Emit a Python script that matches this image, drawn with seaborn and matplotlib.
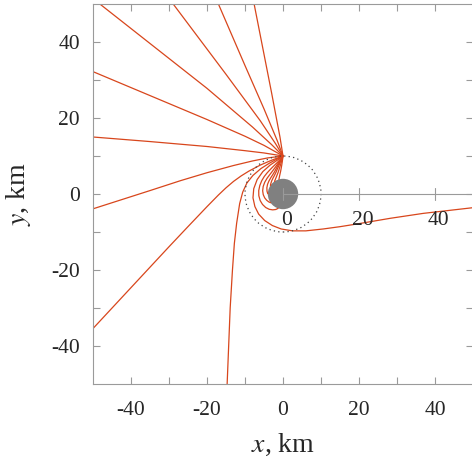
import numpy as np
import pandas as pd
import matplotlib
matplotlib.use("Agg")
import matplotlib.pyplot as plt
import seaborn as sns
from matplotlib.patches import Circle

# ---------------- data (km) ----------------
# escaping rays, cartesian points
r1_x = [0, -3, -8, -20, -48.2]
r1_y = [10, 13.0, 17.6, 27.8, 50]
r2_x = [0, -2, -6, -15, -28.9]
r2_y = [10, 13.3, 19.3, 31.5, 50]
r3_x = [0, -1.5, -5, -10, -17]
r3_y = [10, 14.0, 22.4, 33.8, 50]
r4_x = [0, -0.8, -3, -7.6]
r4_y = [10, 15.0, 26.6, 50]
r5_x = [0, -5, -10, -20, -35, -50]
r5_y = [10, 12.8, 15.2, 19.6, 25.9, 32.2]
r6_x = [0, -5, -10, -20, -35, -50]
r6_y = [10, 10.8, 11.4, 12.5, 13.8, 15.0]
r7_x = [0, -4, -8, -13, -20, -27, -35, -50]
r7_y = [10, 9.5, 8.7, 7.5, 5.6, 3.5, 0.9, -3.9]
r8_x = [0, -3, -6, -9, -11, -13, -15, -17, -20, -25, -30, -50]
r8_y = [10, 8.89, 7.6, 6.01, 4.77, 3.33, 1.63, -0.27, -3.33, -8.58, -13.88, -35.4]
r9_x = [0, -1.6, -3.6, -5.8, -7.9, -9.5, -10.6, -11.4, -12.2, -12.8, -13.3, -13.9, -14.3, -14.7]
r9_y = [10, 9.2, 8.1, 6.7, 4.9, 2.9, 0.5, -2.5, -7.7, -13, -20, -30, -40, -50]
r10_x = [0, -1.5, -3.4, -5.3, -6.8, -7.7, -7.9, -7.4, -6.4, -4.8, -2.8, -0.5, 2.5, 6, 10.6, 15, 19.4, 28.2, 36.9, 50]
r10_y = [10, 8.9, 7.6, 5.9, 3.8, 1.4, -1.0, -3.3, -5.3, -7.0, -8.3, -9.2, -9.7, -9.7, -9.2, -8.6, -7.9, -6.4, -5.1, -3.6]

# captured rays, read in polar form (angle in degrees, radius in km)
l1_phi = [90, 93, 96, 100, 105, 111, 118, 127, 137, 148, 160, 172, 184, 196, 207, 218, 228, 237, 245, 251]
l1_r = [10, 9.45, 8.95, 8.45, 8.0, 7.6, 7.25, 6.95, 6.75, 6.6, 6.5, 6.45, 6.38, 6.25, 6.05, 5.78, 5.42, 4.98, 4.5, 4.0]
l2_phi = [90, 92.5, 95, 98.5, 103, 109, 116, 125, 135, 147, 159, 171, 182, 192, 201, 209, 215]
l2_r = [10, 9.4, 8.85, 8.25, 7.65, 7.05, 6.55, 6.15, 5.9, 5.72, 5.58, 5.42, 5.2, 4.92, 4.6, 4.28, 4.0]
l3_phi = [90, 92, 94.5, 97.5, 101, 105.5, 111, 118, 127, 137, 148, 159, 170, 179]
l3_r = [10, 9.4, 8.8, 8.15, 7.5, 6.85, 6.25, 5.75, 5.35, 5.05, 4.8, 4.55, 4.27, 4.0]
l4_phi = [90, 91.6, 93.5, 96, 99, 103, 108, 114.5, 122, 131, 140, 146]
l4_r = [10, 9.4, 8.8, 8.1, 7.4, 6.7, 6.0, 5.4, 4.95, 4.55, 4.2, 4.0]
l5_phi = [90, 91.1, 92.5, 94.3, 96.5, 99.3, 103, 108, 114, 120, 124]
l5_r = [10, 9.3, 8.6, 7.9, 7.2, 6.5, 5.8, 5.15, 4.6, 4.2, 4.0]
l6_phi = [90, 90.6, 91.4, 92.5, 94, 96, 99, 102.5, 105.5]
l6_r = [10, 9.2, 8.4, 7.6, 6.8, 6.0, 5.2, 4.5, 4.0]

core_radius = 4.0      # grey disk
orbit_radius = 10.0    # dotted circle
mid_ticks = [0, 20, 40]
x_ticks = [-40, -20, 0, 20, 40]
y_ticks = [-40, -20, 0, 20, 40]
minor_ticks = [-30, -10, 10, 30]

# ---------------- build table ----------------
frames = []
cart = [(r1_x, r1_y), (r2_x, r2_y), (r3_x, r3_y), (r4_x, r4_y), (r5_x, r5_y),
        (r6_x, r6_y), (r7_x, r7_y), (r8_x, r8_y), (r9_x, r9_y), (r10_x, r10_y)]
for i, (xs, ys) in enumerate(cart):
    frames.append(pd.DataFrame({"x": xs, "y": ys, "ray": f"e{i}"}))
polar = [(l1_phi, l1_r), (l2_phi, l2_r), (l3_phi, l3_r), (l4_phi, l4_r), (l5_phi, l5_r), (l6_phi, l6_r)]
for i, (ph, rr) in enumerate(polar):
    ph = np.radians(ph)
    rr = np.asarray(rr)
    frames.append(pd.DataFrame({"x": rr * np.cos(ph), "y": rr * np.sin(ph), "ray": f"c{i}"}))
df = pd.concat(frames, ignore_index=True)

# ---------------- style ----------------
sns.set_theme(style="white")
plt.rcParams["font.family"] = ["Liberation Serif", "DejaVu Serif"]
plt.rcParams["mathtext.fontset"] = "stix"
plt.rcParams["axes.unicode_minus"] = False

grey = "#9a9a9a"
red = "#d8461c"

fig = plt.figure(figsize=(4.72, 4.59), dpi=100)
ax = fig.add_axes([93 / 472, 1 - 384 / 459, 380 / 472, 380 / 459])

ax.add_patch(Circle((0, 0), core_radius, facecolor="#808080", edgecolor="none", zorder=1))
sns.lineplot(data=df, x="x", y="y", units="ray", estimator=None, sort=False,
             color=red, linewidth=0.9, ax=ax, zorder=2, legend=False)
ax.add_patch(Circle((0, 0), orbit_radius, fill=False, edgecolor="#444444",
                    linestyle=(0, (1, 2.6)), linewidth=0.9, zorder=3))

# inner axis from the origin to the right
ax.plot([0, 50], [0, 0], color=grey, linewidth=0.8, zorder=4, clip_on=False)
for t in mid_ticks:
    ax.plot([t, t], [-1.6, 1.6], color=grey, linewidth=0.8, zorder=4)
    ax.text(t + 1, -8.15, str(t), ha="center", va="baseline", fontsize=15.5, zorder=5)

ax.set_xlim(-50, 50)
ax.set_ylim(-50, 50)
ax.set_aspect("auto")
ax.set_xticks(x_ticks)
ax.set_yticks(y_ticks)
ax.set_xticks(minor_ticks, minor=True)
ax.set_yticks(minor_ticks, minor=True)
ax.set_xticklabels([str(v) for v in x_ticks])
ax.set_yticklabels([str(v) for v in y_ticks])
ax.tick_params(which="both", direction="in", length=5, width=0.8, color=grey,
               top=True, right=True, bottom=True, left=True, labelsize=15.5)
ax.tick_params(axis="x", which="major", pad=12.5)
ax.tick_params(axis="y", which="major", pad=9.4)
for s in ax.spines.values():
    s.set_color(grey)
    s.set_linewidth(0.8)

ax.set_xlabel(r"$x$, km", fontsize=20)
ax.set_ylabel(r"$y$, km", fontsize=20)
ax.xaxis.set_label_coords(0.5, -0.125)
ax.yaxis.set_label_coords(-0.158, 0.5)

fig.savefig("out.png", dpi=100)
